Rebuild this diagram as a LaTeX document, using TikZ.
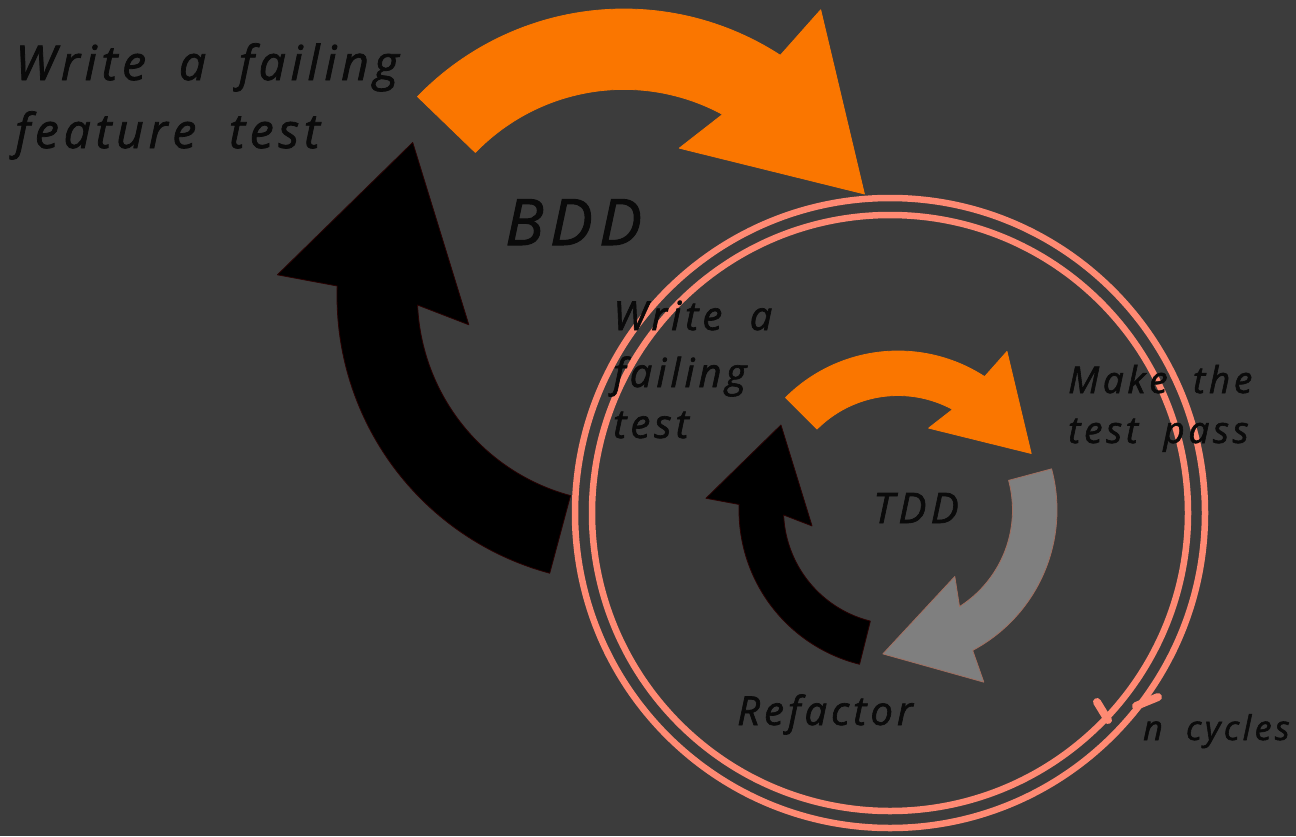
\documentclass[tikz,border=0pt]{standalone}
\usepackage{fontspec}
\newfontfamily\hand{Open Sans}[LetterSpace=10,WordSpace=1.9,FakeBold=1.6]
\definecolor{bgc}{RGB}{60,60,60}
\definecolor{orng}{RGB}{250,118,0}
\definecolor{gryc}{RGB}{127,127,127}
\definecolor{gryo}{RGB}{160,110,95}
\definecolor{blko}{RGB}{40,0,0}
\definecolor{ringc}{RGB}{255,138,115}
\definecolor{txtc}{RGB}{10,10,10}
% cycle arrow: #1 cx, #2 cy, #3 outer radius, #4 tail angle, #5 head base angle, #6 fill, #7 outline
\newcommand{\cycarrow}[7]{%
  \pgfmathsetmacro\qOA{#5+1.5}%
  \pgfmathsetmacro\qTA{#5+34}%
  \pgfmathsetmacro\qWA{#5-12.5}%
  \pgfmathsetmacro\qJA{#5-4.5}%
  \pgfmathsetmacro\qRI{0.72*#3}%
  \pgfmathsetmacro\qRW{1.21*#3}%
  \pgfmathsetmacro\qRT{0.91*#3}%
  \pgfmathsetmacro\qRV{0.55*#3}%
  \filldraw[fill=#6,draw=#7,line width=0.8pt,line join=round]
    plot[domain=#4:#5,samples=60] ({#1+#3*cos(\x)},{#2+#3*sin(\x)})
    -- ({#1+\qRW*cos(\qOA)},{#2+\qRW*sin(\qOA)})
    -- ({#1+\qRT*cos(\qTA)},{#2+\qRT*sin(\qTA)})
    -- ({#1+\qRV*cos(\qWA)},{#2+\qRV*sin(\qWA)})
    -- plot[domain=#4:\qJA,samples=60] ({#1+\qRI*cos(#4+\qJA-\x)},{#2+\qRI*sin(#4+\qJA-\x)})
    -- cycle;
}
\tikzset{
  lbl/.style={text=txtc,inner sep=0pt,anchor=base west},
  ring/.style={draw=ringc,line width=6.5pt},
  barb/.style={draw=ringc,line width=8pt,line cap=round}
}
\begin{document}
\begin{tikzpicture}[x=1pt,y=-1pt]
\useasboundingbox (0,0) rectangle (1296,836);
\fill[bgc] (0,0) rectangle (1296,836);
% BDD cycle
\cycarrow{624}{296}{287}{224}{303}{orng}{orng}
\cycarrow{624}{296}{287}{105}{182}{black}{blko}
% n cycles rings
\draw[ring] (890,513) circle[radius=315pt];
\draw[ring] (890,513) circle[radius=298pt];
\coordinate (bo1) at (1136,706);
\coordinate (bo2) at (1158,697);
\coordinate (bi1) at (1108,720);
\coordinate (bi2) at (1097,702);
\draw[barb] (bo1) -- (bo2);
\draw[barb] (bi1) -- (bi2);
% TDD cycle
\cycarrow{898}{510}{159}{225}{303}{orng}{orng}
\cycarrow{898}{510}{159}{345}{422}{gryc}{gryo}
\cycarrow{898}{510}{159}{104}{182}{black}{blko}
% labels
\node[lbl,font=\hand\itshape\fontsize{48}{58}\selectfont] (f1) at (15,80) {Write a failing};
\node[lbl,font=\hand\itshape\fontsize{48}{58}\selectfont] (f2) at (15,148) {feature test};
\node[lbl,font=\hand\itshape\fontsize{64}{70}\selectfont] (bdd) at (505,245) {BDD};
\node[lbl,font=\hand\itshape\fontsize{40}{48}\selectfont] (w1) at (613,330) {Write a};
\node[lbl,font=\hand\itshape\fontsize{40}{48}\selectfont] (w2) at (613,387) {failing};
\node[lbl,font=\hand\itshape\fontsize{40}{48}\selectfont] (w3) at (613,438) {test};
\node[lbl,font=\hand\itshape\fontsize{37}{44}\selectfont] (m1) at (1068,393) {Make the};
\node[lbl,font=\hand\itshape\fontsize{37}{44}\selectfont] (m2) at (1068,443) {test pass};
\node[lbl,font=\hand\itshape\fontsize{42}{48}\selectfont] (tdd) at (873,523) {TDD};
\node[lbl,font=\hand\itshape\fontsize{40}{48}\selectfont] (ref) at (737,725) {Refactor};
\node[lbl,font=\hand\itshape\fontsize{34}{40}\selectfont] (nc) at (1143,740) {n cycles};
\end{tikzpicture}
\end{document}
